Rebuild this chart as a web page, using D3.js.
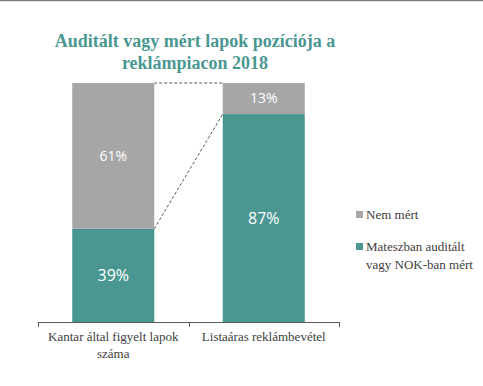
<!DOCTYPE html>
<html>
<head>
<meta charset="utf-8">
<script src="https://cdnjs.cloudflare.com/ajax/libs/d3/7.8.5/d3.min.js"></script>
<style>
  body { margin: 0; background: #fff; }
  svg { display: block; font-family: "Liberation Serif", "DejaVu Serif", serif; }
</style>
</head>
<body>
<div id="chart"></div>
<script>
var categories = ['Kantar által figyelt lapok száma', 'Listaáras reklámbevétel'];
var categoryLines = [['Kantar által figyelt lapok', 'száma'], ['Listaáras reklámbevétel']];
var seriesNames = ['Mateszban auditált vagy NOK-ban mért', 'Nem mért'];
var audited = [39, 87];
var notMeasured = [61, 13];
var colors = ['#4a9792', '#a6a6a6'];

var width = 483, height = 386;
var svg = d3.select('#chart').append('svg')
    .attr('width', width).attr('height', height);

// top border
svg.append('line')
    .attr('x1', 0).attr('x2', width).attr('y1', 0.5).attr('y2', 0.5)
    .attr('stroke', '#7f7f7f').attr('stroke-width', 1.5);

// title
var title = svg.append('text')
    .attr('text-anchor', 'middle')
    .attr('fill', '#4a9792')
    .attr('font-weight', 'bold')
    .attr('font-size', 18);
title.append('tspan').attr('x', 195).attr('y', 47).text('Auditált vagy mért lapok pozíciója a');
title.append('tspan').attr('x', 195).attr('y', 69).text('reklámpiacon 2018');

var x = d3.scaleBand()
    .domain(categories)
    .range([38, 339])
    .paddingInner(0.455)
    .paddingOuter(0.2275);

var y = d3.scaleLinear().domain([0, 100]).range([322, 83]);

var stackData = categories.map(function (c, i) {
  return {cat: c, a: audited[i], n: notMeasured[i]};
});
var stack = d3.stack().keys(['a', 'n'])(stackData);

var layers = svg.selectAll('.layer')
    .data(stack)
    .enter().append('g')
    .attr('class', 'layer')
    .attr('fill', function (d, i) { return colors[i]; });

layers.selectAll('rect')
    .data(function (d) { return d; })
    .enter().append('rect')
    .attr('x', function (d) { return x(d.data.cat); })
    .attr('width', x.bandwidth())
    .attr('y', function (d) { return y(d[1]); })
    .attr('height', function (d) { return y(d[0]) - y(d[1]); });

// value labels
stack.forEach(function (layer, li) {
  layer.forEach(function (d) {
    var v = d[1] - d[0];
    svg.append('text')
        .attr('x', x(d.data.cat) + x.bandwidth() / 2)
        .attr('y', (y(d[0]) + y(d[1])) / 2)
        .attr('dy', '0.35em')
        .attr('text-anchor', 'middle')
        .attr('fill', '#fff')
        .attr('font-family', '"Open Sans", "DejaVu Sans", sans-serif')
        .attr('font-size', li === 0 ? 16 : 14)
        .text(v + '%');
  });
});

// dashed connectors
var x0 = x(categories[0]) + x.bandwidth(), x1 = x(categories[1]);
svg.append('line')
    .attr('x1', x0).attr('x2', x1)
    .attr('y1', y(100)).attr('y2', y(100))
    .attr('stroke', '#595959').attr('stroke-dasharray', '3,2');
svg.append('line')
    .attr('x1', x0).attr('x2', x1)
    .attr('y1', y(audited[0])).attr('y2', y(audited[1]))
    .attr('stroke', '#595959').attr('stroke-dasharray', '3,2');

// axis
var axis = svg.append('g').attr('transform', 'translate(0,322)');
axis.append('line')
    .attr('x1', 38).attr('x2', 339).attr('y1', 0.5).attr('y2', 0.5)
    .attr('stroke', '#595959');
var tickX = [38, 38 + x.step(), 339];
axis.selectAll('.tick')
    .data(tickX)
    .enter().append('line')
    .attr('x1', function (d) { return Math.round(d) + 0.5; })
    .attr('x2', function (d) { return Math.round(d) + 0.5; })
    .attr('y1', 0).attr('y2', 5)
    .attr('stroke', '#595959');

categories.forEach(function (c, i) {
  var t = svg.append('text')
      .attr('text-anchor', 'middle')
      .attr('fill', '#404040')
      .attr('font-size', 13);
  categoryLines[i].forEach(function (line, j) {
    t.append('tspan')
        .attr('x', x(c) + x.bandwidth() / 2)
        .attr('y', 341 + j * 17)
        .text(line);
  });
});

// legend
var legend = [
  {name: [seriesNames[1]], color: colors[1], y: 211},
  {name: ['Mateszban auditált', 'vagy NOK-ban mért'], color: colors[0], y: 243}
];
legend.forEach(function (l) {
  svg.append('rect')
      .attr('x', 356).attr('y', l.y)
      .attr('width', 7).attr('height', 7)
      .attr('fill', l.color);
  var t = svg.append('text')
      .attr('fill', '#404040')
      .attr('font-size', 13);
  l.name.forEach(function (line, j) {
    t.append('tspan')
        .attr('x', 366)
        .attr('y', l.y + 8 + j * 18)
        .text(line);
  });
});
</script>
</body>
</html>
